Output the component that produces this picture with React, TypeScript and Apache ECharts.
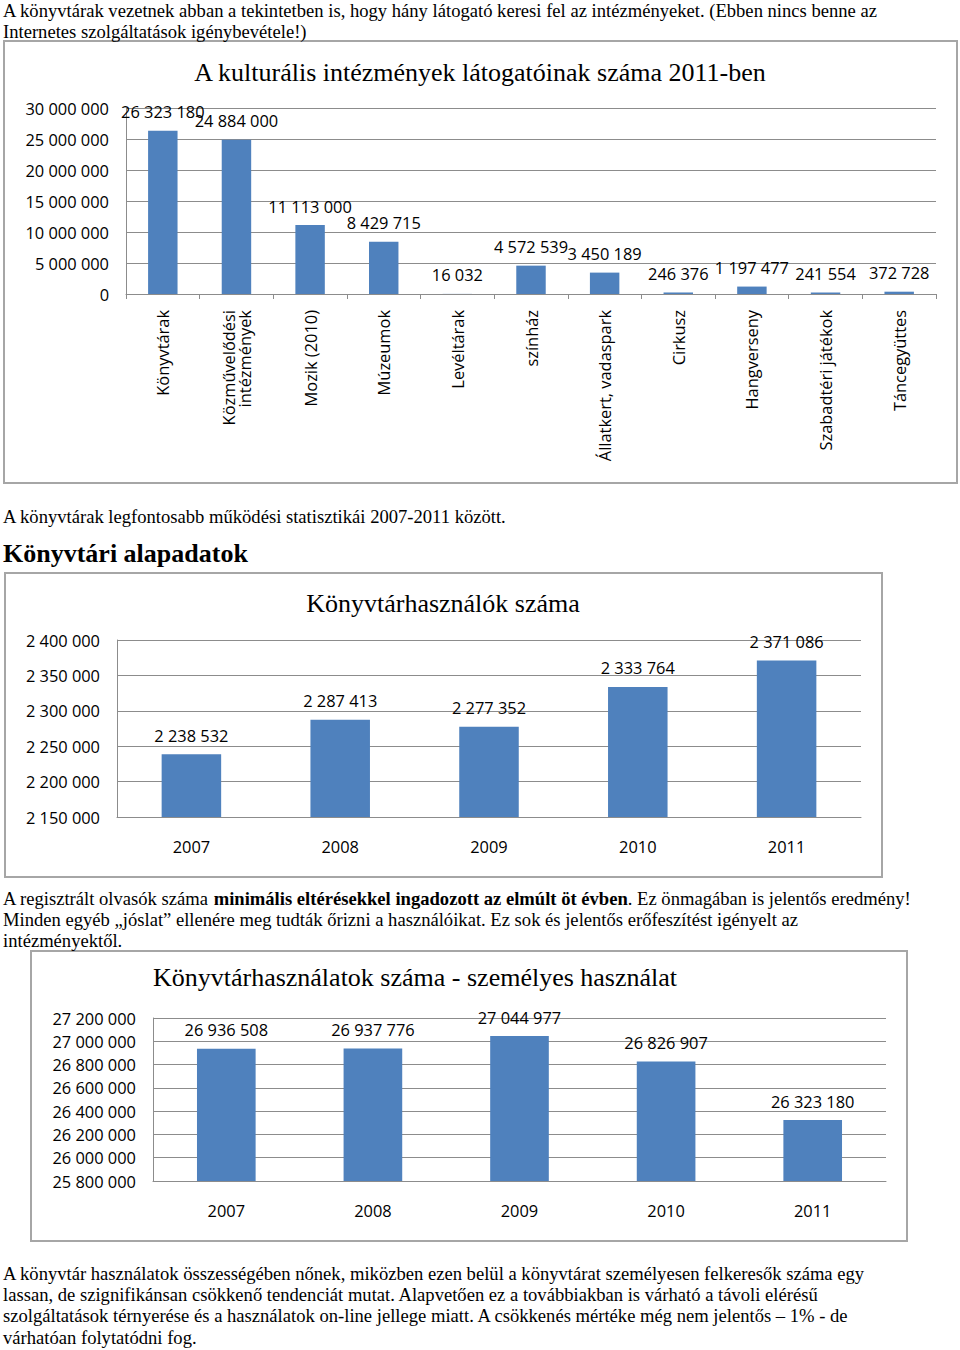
import React, { useEffect, useRef } from "react";
import * as echarts from "echarts";

const instCategories = [
  "Könyvtárak",
  "Közművelődési\nintézmények",
  "Mozik (2010)",
  "Múzeumok",
  "Levéltárak",
  "színház",
  "Állatkert, vadaspark",
  "Cirkusz",
  "Hangverseny",
  "Szabadtéri játékok",
  "Táncegyüttes",
];
const instVisitors = [26323180, 24884000, 11113000, 8429715, 16032, 4572539, 3450189, 246376, 1197477, 241554, 372728];

const yearCategories = ["2007", "2008", "2009", "2010", "2011"];
const libraryUsers = [2238532, 2287413, 2277352, 2333764, 2371086];
const personalUses = [26936508, 26937776, 27044977, 26826907, 26323180];

const title1 = "A kulturális intézmények látogatóinak száma 2011-ben";
const title2 = "Könyvtárhasználók száma";
const title3 = "Könyvtárhasználatok száma - személyes használat";

const introLines = [
  "A könyvtárak vezetnek abban a tekintetben is, hogy hány látogató keresi fel az intézményeket. (Ebben nincs benne az",
  "Internetes szolgáltatások igénybevétele!)",
];
const statsLine = "A könyvtárak legfontosabb működési statisztikái 2007-2011 között.";
const heading = "Könyvtári alapadatok";
const para2Lines = [
  "{n|A regisztrált olvasók száma }{b|minimális eltérésekkel ingadozott az elmúlt öt évben}{n|. Ez önmagában is jelentős eredmény!}",
  "{n|Minden egyéb „jóslat” ellenére meg tudták őrizni a használóikat. Ez sok és jelentős erőfeszítést igényelt az}",
  "{n|intézményektől.}",
];
const para3Lines = [
  "A könyvtár használatok összességében nőnek, miközben ezen belül a könyvtárat személyesen felkeresők száma egy",
  "lassan, de szignifikánsan csökkenő tendenciát mutat. Alapvetően ez a továbbiakban is várható a távoli elérésű",
  "szolgáltatások térnyerése és a használatok on-line jellege miatt. A csökkenés mértéke még nem jelentős – 1% - de",
  "várhatóan folytatódni fog.",
];

const SERIF = "'Liberation Serif', 'DejaVu Serif', serif";
const SANS = "'Open Sans', 'Noto Sans', sans-serif";
const BLUE = "#4f81bd";
const GRID_GRAY = "#8c8c8c";
const BODY_SIZE = 18.6;

const fmt = (v: number) => String(v).replace(/\B(?=(\d{3})+(?!\d))/g, " ");

function bodyText(text: string, x: number, y: number, extra: any = {}) {
  return {
    type: "text",
    x,
    y,
    scaleY: 1.05,
    z: 10,
    style: {
      text,
      fill: "#000",
      fontFamily: SERIF,
      fontSize: BODY_SIZE,
      align: "left",
      textAlign: "left",
      verticalAlign: "middle",
      textVerticalAlign: "middle",
      ...extra,
    },
  };
}

function titleText(text: string, x: number, y: number, size: number) {
  return {
    type: "text",
    x,
    y,
    z: 10,
    style: {
      text,
      fill: "#000",
      fontFamily: SERIF,
      fontSize: size,
      align: "center",
      textAlign: "center",
      verticalAlign: "middle",
      textVerticalAlign: "middle",
    },
  };
}

function boxRect(x: number, y: number, w: number, h: number) {
  return {
    type: "rect",
    z: 0,
    shape: { x, y, width: w, height: h },
    style: { fill: "#fff", stroke: "#a6a6a6", lineWidth: 2 },
  };
}

export default function App() {
  const ref = useRef<HTMLDivElement>(null);

  useEffect(() => {
    if (!ref.current) return;
    const chart = echarts.init(ref.current, undefined, { renderer: "svg" });

    const axisLabelStyle = { color: "#000", fontFamily: SANS, fontSize: 16.4 };
    const valueLabel = {
      show: true,
      position: "top",
      distance: 11,
      color: "#000",
      fontFamily: SANS,
      fontSize: 16.4,
      formatter: (p: any) => fmt(p.value),
    };

    const richN = { fontFamily: SERIF, fontSize: BODY_SIZE, color: "#000" };
    const richB = { fontFamily: SERIF, fontSize: BODY_SIZE, fontWeight: "bold", color: "#000" };

    chart.setOption({
      animation: false,
      backgroundColor: "#fff",
      grid: [
        { left: 126, top: 108, width: 810, height: 186 },
        { left: 117, top: 640, width: 744, height: 177 },
        { left: 153, top: 1018, width: 733, height: 163 },
      ],
      xAxis: [
        {
          type: "category",
          gridIndex: 0,
          data: instCategories,
          axisLine: { lineStyle: { color: GRID_GRAY } },
          axisTick: { show: true, length: 5, lineStyle: { color: GRID_GRAY } },
          axisLabel: { ...axisLabelStyle, rotate: 90, margin: 16, interval: 0 },
        },
        {
          type: "category",
          gridIndex: 1,
          data: yearCategories,
          axisLine: { lineStyle: { color: GRID_GRAY } },
          axisTick: { show: false },
          axisLabel: { ...axisLabelStyle, margin: 21 },
        },
        {
          type: "category",
          gridIndex: 2,
          data: yearCategories,
          axisLine: { lineStyle: { color: GRID_GRAY } },
          axisTick: { show: false },
          axisLabel: { ...axisLabelStyle, margin: 21 },
        },
      ],
      yAxis: [
        {
          type: "value",
          gridIndex: 0,
          min: 0,
          max: 30000000,
          interval: 5000000,
          axisLine: { show: true, lineStyle: { color: GRID_GRAY } },
          axisTick: { show: false },
          splitLine: { lineStyle: { color: GRID_GRAY } },
          axisLabel: { ...axisLabelStyle, margin: 17, formatter: (v: number) => fmt(v) },
        },
        {
          type: "value",
          gridIndex: 1,
          min: 2150000,
          max: 2400000,
          interval: 50000,
          axisLine: { show: true, lineStyle: { color: GRID_GRAY } },
          axisTick: { show: false },
          splitLine: { lineStyle: { color: GRID_GRAY } },
          axisLabel: { ...axisLabelStyle, margin: 17, formatter: (v: number) => fmt(v) },
        },
        {
          type: "value",
          gridIndex: 2,
          min: 25800000,
          max: 27200000,
          interval: 200000,
          axisLine: { show: true, lineStyle: { color: GRID_GRAY } },
          axisTick: { show: false },
          splitLine: { lineStyle: { color: GRID_GRAY } },
          axisLabel: { ...axisLabelStyle, margin: 17, formatter: (v: number) => fmt(v) },
        },
      ],
      series: [
        {
          type: "bar",
          xAxisIndex: 0,
          yAxisIndex: 0,
          data: instVisitors,
          barCategoryGap: "60%",
          itemStyle: { color: BLUE },
          label: valueLabel,
          z: 5,
        },
        {
          type: "bar",
          xAxisIndex: 1,
          yAxisIndex: 1,
          data: libraryUsers,
          barCategoryGap: "60%",
          itemStyle: { color: BLUE },
          label: valueLabel,
          z: 5,
        },
        {
          type: "bar",
          xAxisIndex: 2,
          yAxisIndex: 2,
          data: personalUses,
          barCategoryGap: "60%",
          itemStyle: { color: BLUE },
          label: valueLabel,
          z: 5,
        },
      ],
      graphic: [
        boxRect(4, 41, 953, 442),
        boxRect(5, 573, 877, 304),
        boxRect(31, 951, 876, 290),
        bodyText(introLines[0], 3, 10),
        bodyText(introLines[1], 3, 31),
        titleText(title1, 480, 72, 26),
        bodyText(statsLine, 3, 516),
        {
          type: "text",
          x: 3,
          y: 553,
          z: 10,
          style: {
            text: heading,
            fill: "#000",
            fontFamily: SERIF,
            fontSize: 26,
            fontWeight: "bold",
            align: "left",
            textAlign: "left",
            verticalAlign: "middle",
            textVerticalAlign: "middle",
          },
        },
        titleText(title2, 443, 603, 26),
        ...para2Lines.map((t, i) =>
          bodyText(t, 3, 898 + i * 21, { rich: { n: richN, b: richB } })
        ),
        titleText(title3, 415, 977, 26),
        ...para3Lines.map((t, i) => bodyText(t, 3, 1273 + i * 21.3)),
      ],
    });

    return () => chart.dispose();
  }, []);

  return (
    <div
      ref={ref}
      style={{ position: "absolute", left: 0, top: 0, width: 960, height: 1350, background: "#fff" }}
    />
  );
}
